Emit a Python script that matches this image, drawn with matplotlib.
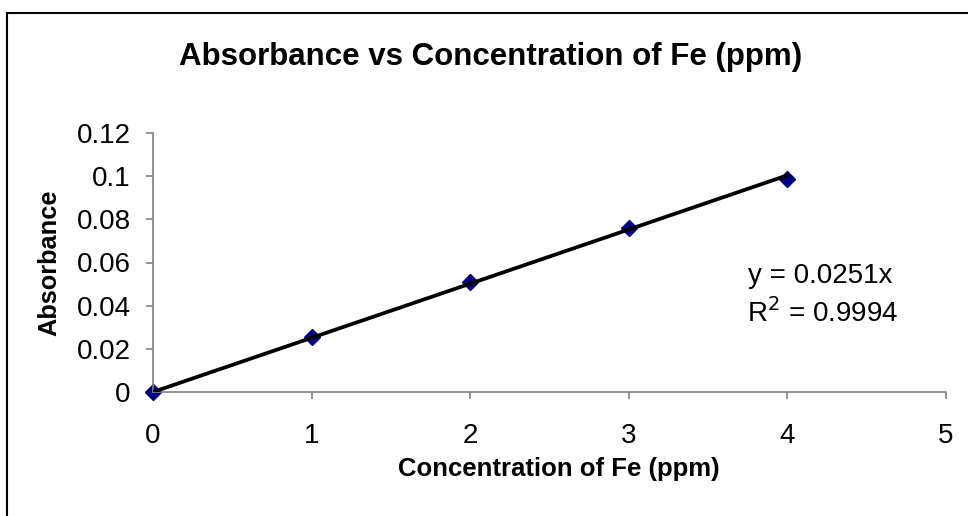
import matplotlib
matplotlib.use("Agg")
import matplotlib.pyplot as plt
from matplotlib.patches import Rectangle
import numpy as np

plt.rcParams['font.family'] = ['Liberation Sans', 'DejaVu Sans']

conc = [0, 1, 2, 3, 4]
absorbance = [0.0, 0.0253, 0.0508, 0.0759, 0.0988]
slope = 0.0251
r2 = 0.9994
xticks = [0, 1, 2, 3, 4, 5]
yticks = [0, 0.02, 0.04, 0.06, 0.08, 0.1, 0.12]
yticklabels = ['0', '0.02', '0.04', '0.06', '0.08', '0.1', '0.12']

W, H = 968, 516
fig = plt.figure(figsize=(W/100, H/100), dpi=100)
fig.patch.set_facecolor('white')

# outer chart border
fig.patches.append(Rectangle((7/W, -0.1), 1.2, 1 - 13/H + 0.1, transform=fig.transFigure,
                             fill=False, edgecolor='black', linewidth=1.5))

ax = fig.add_axes([153/W, (H-392)/H, (946-153)/W, (392-133)/H])
fit_x = np.array([conc[0], conc[-1]])
ax.plot(fit_x, slope*fit_x, color='black', linewidth=2.7, zorder=3)
ax.plot(conc, absorbance, linestyle='none', marker='D', markersize=8.5,
        color='#000080', zorder=2, clip_on=False)

ax.set_xlim(0, 5)
ax.set_ylim(0, 0.12)
ax.set_xticks(xticks)
ax.set_xticklabels([str(t) for t in xticks])
ax.set_yticks(yticks)
ax.set_yticklabels(yticklabels)
for s in ['top', 'right']:
    ax.spines[s].set_visible(False)
for s in ['left', 'bottom']:
    ax.spines[s].set_color('#808080')
    ax.spines[s].set_linewidth(1.2)
ax.tick_params(axis='both', colors='#808080', labelcolor='black', labelsize=20,
               length=5, width=1.2, direction='out')
ax.tick_params(axis='x', pad=17)
ax.tick_params(axis='y', pad=11)

fig.text(491/W, 1 - 57/H, 'Absorbance vs Concentration of Fe (ppm)', ha='center', va='center',
         fontsize=22.5, fontweight='bold')
fig.text(559/W, 1 - 469/H, 'Concentration of Fe (ppm)', ha='center', va='center',
         fontsize=18.5, fontweight='bold')
fig.text(49/W, 1 - 263/H, 'Absorbance', ha='center', va='center', rotation=90,
         fontsize=18.3, fontweight='bold')
fig.text(748/W, 1 - 276/H, f'y = {slope}x', ha='left', va='center', fontsize=20)
fig.text(747/W, 1 - 313/H, f'R$^2$ = {r2}', ha='left', va='center', fontsize=20)

fig.savefig('out.png', dpi=100, facecolor='white')
